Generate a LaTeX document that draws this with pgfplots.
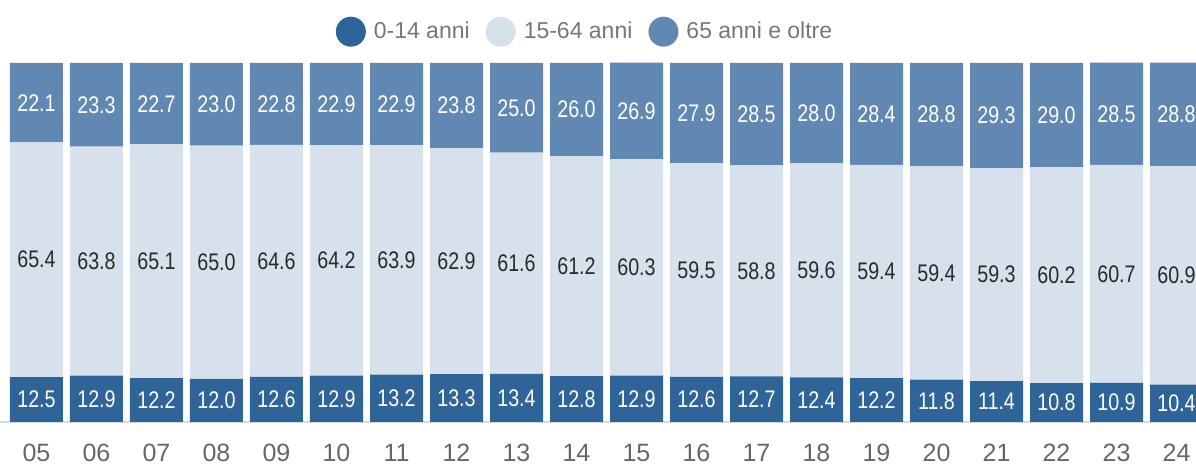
\documentclass[border=0pt]{standalone}
\usepackage{fontspec}
\setmainfont{Liberation Sans}
\newfontfamily\narrowfont[FakeStretch=0.82]{Liberation Sans}
\usepackage{pgfplots}
\usepackage{pgfplotstable}
\pgfplotsset{compat=1.18}
\pgfplotsset{/pgf/number format/assume math mode=true}
\definecolor{cDark}{HTML}{2F6498}
\definecolor{cMid}{HTML}{6088B2}
\definecolor{cLight}{HTML}{D7E1EB}
\definecolor{cTick}{HTML}{666666}
\definecolor{cLeg}{HTML}{777777}
\definecolor{cVal}{HTML}{2A2A2A}
\pgfplotstableread{
yr a b c
05 12.5 65.4 22.1
06 12.9 63.8 23.3
07 12.2 65.1 22.7
08 12.0 65.0 23.0
09 12.6 64.6 22.8
10 12.9 64.2 22.9
11 13.2 63.9 22.9
12 13.3 62.9 23.8
13 13.4 61.6 25.0
14 12.8 61.2 26.0
15 12.9 60.3 26.9
16 12.6 59.5 27.9
17 12.7 58.8 28.5
18 12.4 59.6 28.0
19 12.2 59.4 28.4
20 11.8 59.4 28.8
21 11.4 59.3 29.3
22 10.8 60.2 29.0
23 10.9 60.7 28.5
24 10.4 60.9 28.8
}\data
\pgfplotsset{
  myframe/.style={
    at={(0pt,22pt)}, anchor=south west,
    scale only axis, width=598pt, height=179.7pt,
    xmin=-0.6083, xmax=19.325, ymin=0, ymax=100.1,
  },
  vallab/.style={draw=none, mark=none, nodes near coords, point meta=explicit,
    nodes near coords={\pgfmathprintnumber[fixed,fixed zerofill,precision=1]{\pgfplotspointmeta}},
    nodes near coords align={center},
    every node near coord/.style={anchor=center, text=#1, inner sep=0pt,
      font=\narrowfont\fontsize{12}{13}\selectfont}},
}
\begin{document}
\begin{tikzpicture}
\path[use as bounding box] (0,0) rectangle (598pt,233pt);
\begin{axis}[
  myframe,
  ybar stacked, bar width=26.5pt,
  axis x line*=bottom, axis y line=none,
  x axis line style={-, draw=black!15, line width=0.6pt},
  xtick={0,...,19},
  xticklabels={05,06,07,08,09,10,11,12,13,14,15,16,17,18,19,20,21,22,23,24},
  major tick length=0pt,
  xticklabel style={anchor=base, yshift=-20pt, text=cTick, font=\fontsize{12.5}{14}\selectfont},
  ytick=\empty,
  legend style={at={(0.49,1.086)}, anchor=center, draw=none, fill=none,
    legend columns=-1, font=\fontsize{11.5}{13}\selectfont, text=cLeg,
    /tikz/every odd column/.append style={column sep=2pt},
    /tikz/every even column/.append style={column sep=6pt}},
  legend image code/.code={\fill (0pt,0pt) circle (7.5pt);},
]
\addplot[fill=cDark, draw=none] table[x expr=\coordindex, y=a]{\data};
\addlegendentry{0-14 anni}
\addplot[fill=cLight, draw=none] table[x expr=\coordindex, y=b]{\data};
\addlegendentry{15-64 anni}
\addplot[fill=cMid, draw=none] table[x expr=\coordindex, y=c]{\data};
\addlegendentry{65 anni e oltre}
\end{axis}
\begin{axis}[myframe, hide axis, clip=false]
\addplot[vallab=white] table[x expr=\coordindex, y expr=\thisrow{a}/2, meta=a]{\data};
\addplot[vallab=cVal] table[x expr=\coordindex, y expr=\thisrow{a}+\thisrow{b}/2, meta=b]{\data};
\addplot[vallab=white] table[x expr=\coordindex, y expr=\thisrow{a}+\thisrow{b}+\thisrow{c}/2, meta=c]{\data};
\end{axis}
\end{tikzpicture}
\end{document}
